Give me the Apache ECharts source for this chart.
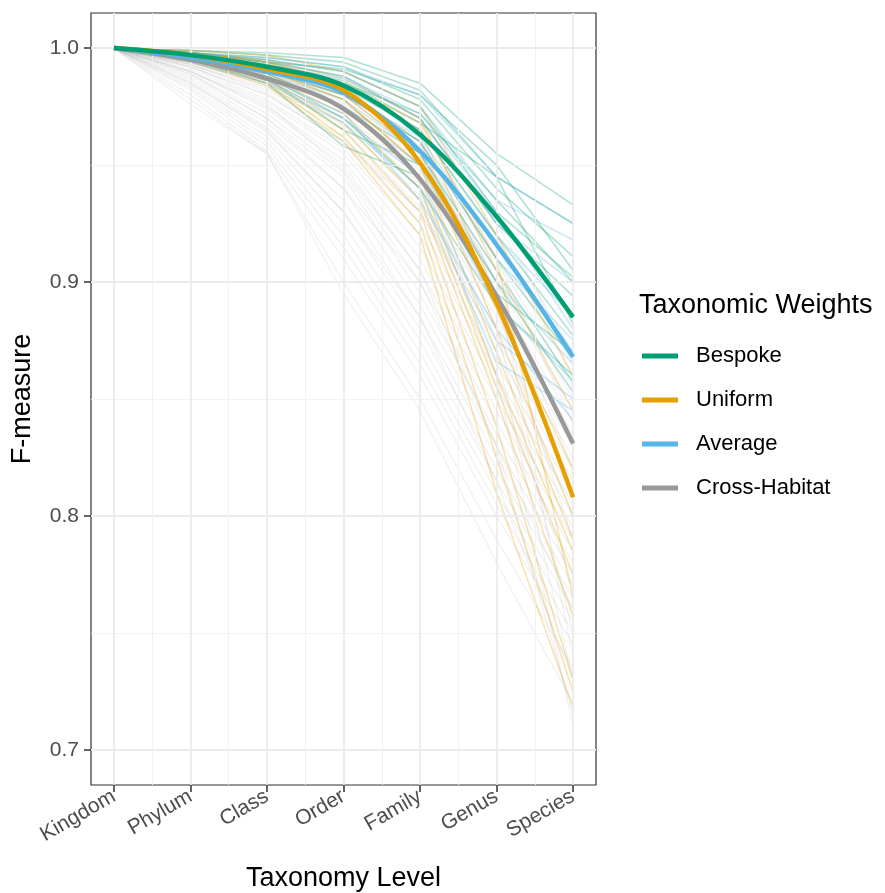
<!DOCTYPE html>
<html lang="en">
<head>
    <meta charset="UTF-8">
    <title>F-measure by taxonomy level</title>
    <script src="https://cdn.jsdelivr.net/npm/echarts@6/dist/echarts.min.js"></script>
    <style>
        html, body { margin: 0; padding: 0; background: #fff; }
        #main { width: 885px; height: 893px; }
    </style>
</head>
<body>
<div id="main"></div>
<script type="text/javascript">
    var levels = ['Kingdom', 'Phylum', 'Class', 'Order', 'Family', 'Genus', 'Species'];

    // smoothed group means (thick lines)
    var bespoke = [1.0, 0.997, 0.992, 0.984, 0.963, 0.928, 0.885];
    var uniform = [1.0, 0.997, 0.991, 0.982, 0.951, 0.891, 0.808];
    var average = [1.0, 0.996, 0.990, 0.981, 0.956, 0.916, 0.868];
    var crossHabitat = [1.0, 0.995, 0.987, 0.974, 0.944, 0.894, 0.831];

    // individual runs (thin lines)
    var bespokeRuns = [
        [1, 0.999, 0.998, 0.996, 0.985, 0.955, 0.933],
        [1, 0.999, 0.997, 0.994, 0.982, 0.945, 0.925],
        [1, 0.998, 0.996, 0.992, 0.978, 0.940, 0.911],
        [1, 0.998, 0.995, 0.990, 0.975, 0.930, 0.902],
        [1, 0.998, 0.994, 0.988, 0.970, 0.925, 0.894],
        [1, 0.997, 0.993, 0.986, 0.968, 0.945, 0.882],
        [1, 0.997, 0.992, 0.983, 0.965, 0.920, 0.877],
        [1, 0.996, 0.990, 0.980, 0.960, 0.910, 0.867],
        [1, 0.996, 0.989, 0.975, 0.955, 0.905, 0.857],
        [1, 0.995, 0.987, 0.965, 0.950, 0.900, 0.853],
        [1, 0.995, 0.985, 0.958, 0.945, 0.895, 0.870],
        [1, 0.997, 0.990, 0.985, 0.972, 0.935, 0.900],
        [1, 0.998, 0.994, 0.991, 0.980, 0.950, 0.905],
        [1, 0.996, 0.988, 0.970, 0.940, 0.890, 0.860]
    ];
    var averageRuns = [
        [1, 0.998, 0.996, 0.992, 0.980, 0.945, 0.925],
        [1, 0.998, 0.995, 0.990, 0.975, 0.935, 0.918],
        [1, 0.997, 0.993, 0.987, 0.970, 0.925, 0.900],
        [1, 0.997, 0.992, 0.985, 0.965, 0.920, 0.885],
        [1, 0.996, 0.990, 0.982, 0.960, 0.910, 0.875],
        [1, 0.996, 0.989, 0.978, 0.955, 0.900, 0.865],
        [1, 0.995, 0.988, 0.975, 0.950, 0.890, 0.858],
        [1, 0.995, 0.986, 0.970, 0.945, 0.875, 0.850],
        [1, 0.994, 0.985, 0.968, 0.940, 0.866, 0.845],
        [1, 0.995, 0.987, 0.972, 0.935, 0.880, 0.841],
        [1, 0.997, 0.994, 0.988, 0.972, 0.930, 0.880],
        [1, 0.996, 0.991, 0.980, 0.962, 0.915, 0.870]
    ];
    var uniformRuns = [
        [1, 0.999, 0.997, 0.990, 0.975, 0.920, 0.860],
        [1, 0.998, 0.995, 0.987, 0.970, 0.905, 0.845],
        [1, 0.998, 0.994, 0.985, 0.965, 0.895, 0.830],
        [1, 0.997, 0.993, 0.983, 0.960, 0.888, 0.820],
        [1, 0.997, 0.992, 0.980, 0.955, 0.880, 0.800],
        [1, 0.997, 0.990, 0.978, 0.950, 0.870, 0.790],
        [1, 0.996, 0.989, 0.975, 0.945, 0.860, 0.785],
        [1, 0.996, 0.988, 0.972, 0.940, 0.855, 0.775],
        [1, 0.995, 0.987, 0.968, 0.935, 0.850, 0.757],
        [1, 0.995, 0.986, 0.965, 0.930, 0.838, 0.730],
        [1, 0.995, 0.985, 0.962, 0.925, 0.825, 0.725],
        [1, 0.994, 0.984, 0.960, 0.920, 0.810, 0.718],
        [1, 0.998, 0.994, 0.985, 0.968, 0.910, 0.765],
        [1, 0.997, 0.991, 0.978, 0.950, 0.895, 0.810]
    ];
    var crossRuns = [
        [1, 0.998, 0.995, 0.988, 0.970, 0.925, 0.870],
        [1, 0.997, 0.993, 0.985, 0.965, 0.915, 0.860],
        [1, 0.997, 0.992, 0.982, 0.960, 0.910, 0.855],
        [1, 0.996, 0.990, 0.980, 0.955, 0.905, 0.850],
        [1, 0.996, 0.989, 0.977, 0.952, 0.900, 0.845],
        [1, 0.995, 0.988, 0.975, 0.948, 0.895, 0.840],
        [1, 0.995, 0.987, 0.972, 0.945, 0.890, 0.835],
        [1, 0.994, 0.985, 0.970, 0.940, 0.885, 0.830],
        [1, 0.994, 0.984, 0.967, 0.937, 0.880, 0.825],
        [1, 0.993, 0.982, 0.965, 0.932, 0.875, 0.820],
        [1, 0.993, 0.981, 0.962, 0.930, 0.870, 0.815],
        [1, 0.992, 0.980, 0.960, 0.925, 0.865, 0.810],
        [1, 0.992, 0.978, 0.957, 0.920, 0.860, 0.805],
        [1, 0.991, 0.977, 0.955, 0.915, 0.855, 0.800],
        [1, 0.990, 0.975, 0.952, 0.910, 0.850, 0.795],
        [1, 0.990, 0.974, 0.950, 0.905, 0.845, 0.790],
        [1, 0.989, 0.972, 0.947, 0.900, 0.840, 0.785],
        [1, 0.988, 0.970, 0.945, 0.895, 0.835, 0.780],
        [1, 0.987, 0.968, 0.940, 0.890, 0.830, 0.775],
        [1, 0.986, 0.966, 0.935, 0.885, 0.825, 0.770],
        [1, 0.985, 0.964, 0.930, 0.880, 0.820, 0.765],
        [1, 0.984, 0.962, 0.925, 0.875, 0.815, 0.760],
        [1, 0.983, 0.960, 0.920, 0.870, 0.810, 0.755],
        [1, 0.982, 0.958, 0.915, 0.865, 0.805, 0.750],
        [1, 0.980, 0.956, 0.910, 0.860, 0.800, 0.745],
        [1, 0.978, 0.955, 0.900, 0.850, 0.790, 0.735],
        [1, 0.976, 0.955, 0.895, 0.845, 0.780, 0.720],
        [1, 0.995, 0.990, 0.980, 0.960, 0.900, 0.740],
        [1, 0.997, 0.993, 0.983, 0.958, 0.880, 0.750],
        [1, 0.994, 0.986, 0.970, 0.942, 0.870, 0.730],
        [1, 0.996, 0.990, 0.978, 0.950, 0.860, 0.710],
        [1, 0.993, 0.983, 0.968, 0.935, 0.860, 0.770],
        [1, 0.992, 0.980, 0.960, 0.930, 0.875, 0.800],
        [1, 0.998, 0.994, 0.986, 0.962, 0.900, 0.820],
        [1, 0.997, 0.991, 0.980, 0.955, 0.890, 0.790],
        [1, 0.990, 0.976, 0.948, 0.905, 0.830, 0.760],
        [1, 0.989, 0.970, 0.940, 0.900, 0.830, 0.715],
        [1, 0.985, 0.965, 0.930, 0.885, 0.815, 0.730],
        [1, 0.996, 0.992, 0.984, 0.968, 0.930, 0.865],
        [1, 0.995, 0.989, 0.976, 0.955, 0.910, 0.840]
    ];

    var yTicks = [0.7, 0.8, 0.9, 1.0];
    var yMinor = [0.75, 0.85, 0.95];
    var xTicks = [0, 1, 2, 3, 4, 5, 6];
    var xMinor = [0.5, 1.5, 2.5, 3.5, 4.5, 5.5];

    var FONT = '"Liberation Sans", Arial, sans-serif';

    function pts(arr) {
        return arr.map(function (v, i) { return [i, v]; });
    }

    var series = [];

    // panel grid lines (theme_bw look)
    var gridLines = [];
    yTicks.forEach(function (v) { gridLines.push({ yAxis: v, lineStyle: { color: '#ebebeb', width: 1.8, type: 'solid' } }); });
    yMinor.forEach(function (v) { gridLines.push({ yAxis: v, lineStyle: { color: '#f0f0f0', width: 0.9, type: 'solid' } }); });
    xTicks.forEach(function (v) { gridLines.push({ xAxis: v, lineStyle: { color: '#ebebeb', width: 1.8, type: 'solid' } }); });
    xMinor.forEach(function (v) { gridLines.push({ xAxis: v, lineStyle: { color: '#f0f0f0', width: 0.9, type: 'solid' } }); });
    series.push({
        name: 'grid', type: 'line', data: [], z: 0, silent: true,
        markLine: { silent: true, symbol: 'none', label: { show: false }, animation: false, data: gridLines }
    });

    function addRuns(runs, name, color, width) {
        runs.forEach(function (r, k) {
            series.push({
                name: name + '_' + k, type: 'line', data: pts(r), showSymbol: false, silent: true,
                lineStyle: { color: color, width: width }, z: 2
            });
        });
    }
    addRuns(crossRuns, 'crossRun', 'rgba(150,150,150,0.12)', 1.4);
    addRuns(bespokeRuns, 'bespokeRun', 'rgba(0,158,115,0.3)', 1.6);
    addRuns(uniformRuns, 'uniformRun', 'rgba(230,159,0,0.3)', 1.6);
    addRuns(averageRuns, 'averageRun', 'rgba(86,180,233,0.3)', 1.6);

    function addMain(name, data, color, z) {
        series.push({
            name: name, type: 'line', data: pts(data), showSymbol: false, smooth: 0.35,
            itemStyle: { color: color }, lineStyle: { color: color, width: 4.5 }, z: z
        });
    }
    addMain('Cross-Habitat', crossHabitat, '#999999', 5);
    addMain('Average', average, '#56B4E9', 6);
    addMain('Uniform', uniform, '#E69F00', 7);
    addMain('Bespoke', bespoke, '#009E73', 8);

    var myChart = echarts.init(document.getElementById('main'));
    var option = {
        animation: false,
        backgroundColor: '#fff',
        textStyle: { fontFamily: FONT },
        title: {
            text: 'Taxonomic Weights', left: 639, top: 292, padding: 0,
            textStyle: { fontFamily: FONT, fontSize: 27, fontWeight: 'normal', color: '#000' }
        },
        legend: {
            data: ['Bespoke', 'Uniform', 'Average', 'Cross-Habitat'],
            orient: 'vertical', left: 642, top: 345, padding: 0,
            icon: 'rect', itemWidth: 36, itemHeight: 5, itemGap: 22,
            textStyle: { fontFamily: FONT, fontSize: 22, color: '#000', padding: [0, 0, 0, 13] },
            selectedMode: false
        },
        grid: {
            left: 91, right: 289, top: 13, bottom: 108,
            outerBoundsMode: 'none',
            show: true, borderColor: '#333', borderWidth: 1.2, backgroundColor: '#fff'
        },
        xAxis: {
            type: 'value', min: -0.3, max: 6.3,
            name: 'Taxonomy Level', nameLocation: 'middle', nameGap: 80,
            nameTextStyle: { fontFamily: FONT, fontSize: 27, color: '#000' },
            axisLine: { show: false, onZero: false },
            splitLine: { show: false },
            axisTick: { show: true, length: 7, customValues: xTicks, lineStyle: { color: '#333', width: 1.5 } },
            axisLabel: {
                customValues: xTicks, rotate: 30, margin: 10,
                fontFamily: FONT, fontSize: 21, color: '#4d4d4d',
                formatter: function (v) { return levels[Math.round(v)]; }
            }
        },
        yAxis: {
            type: 'value', min: 0.685, max: 1.015,
            name: 'F-measure', nameLocation: 'middle', nameGap: 55,
            nameTextStyle: { fontFamily: FONT, fontSize: 27, color: '#000' },
            axisLine: { show: false, onZero: false },
            splitLine: { show: false },
            axisTick: { show: true, length: 7, customValues: yTicks, lineStyle: { color: '#333', width: 1.5 } },
            axisLabel: {
                customValues: yTicks, margin: 12,
                fontFamily: FONT, fontSize: 21, color: '#4d4d4d',
                formatter: function (v) { return v.toFixed(1); }
            }
        },
        series: series
    };
    myChart.setOption(option);
</script>
</body>
</html>
